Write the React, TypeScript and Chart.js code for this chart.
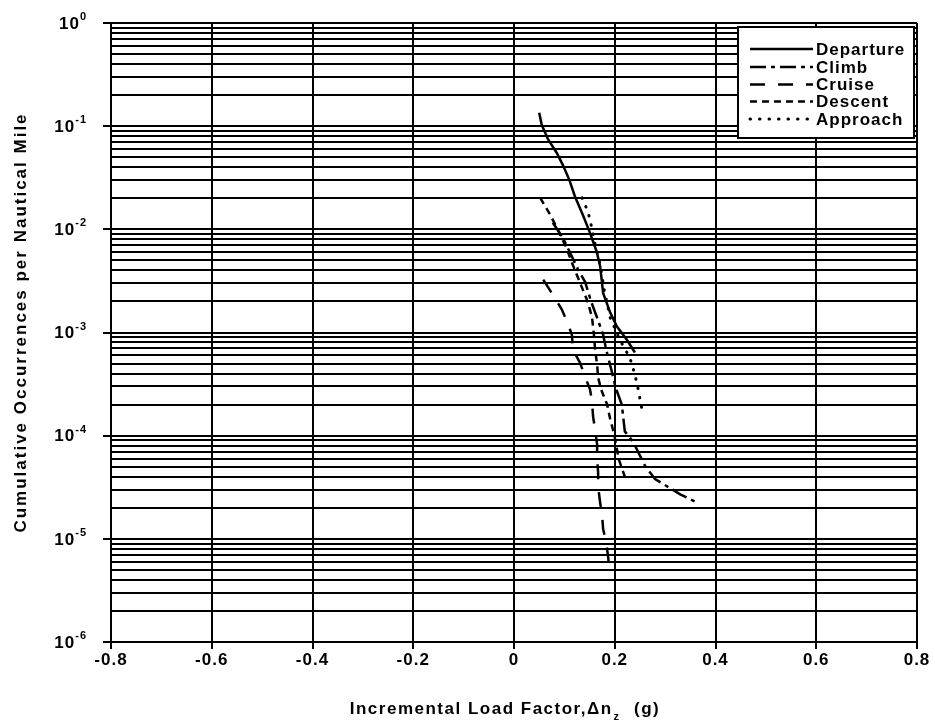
import React, { useEffect, useRef } from 'react';
import { Chart, registerables } from 'chart.js';

Chart.register(...registerables);

// ---------- data ----------
const xTickValues = [-0.8, -0.6, -0.4, -0.2, 0, 0.2, 0.4, 0.6, 0.8];
const xTickLabels = ['-0.8', '-0.6', '-0.4', '-0.2', '0', '0.2', '0.4', '0.6', '0.8'];
const yDecadeExponents = [0, -1, -2, -3, -4, -5, -6];
const yDecadeLabels = ['0', '-1', '-2', '-3', '-4', '-5', '-6'];

const seriesNames = ['Departure', 'Climb', 'Cruise', 'Descent', 'Approach'];

const departureX = [0.050, 0.055, 0.068, 0.085, 0.098, 0.110, 0.121, 0.138, 0.151, 0.164, 0.171, 0.177, 0.191, 0.204, 0.224, 0.240];
const departureY = [0.135, 0.103, 0.074, 0.055, 0.041, 0.030, 0.0208, 0.0133, 0.0092, 0.0061, 0.0044, 0.0024, 0.00156, 0.00115, 0.00085, 0.00064];

const climbX = [0.077, 0.097, 0.113, 0.127, 0.141, 0.153, 0.165, 0.177, 0.183, 0.193, 0.202, 0.214, 0.220, 0.236, 0.260, 0.280, 0.330, 0.359];
const climbY = [0.0116, 0.0083, 0.0057, 0.0041, 0.0031, 0.0020, 0.00139, 0.00095, 0.00068, 0.00044, 0.00029, 0.00020, 0.00011, 0.000088, 0.000051, 0.000038, 0.000027, 0.000023];

const cruiseX = [0.058, 0.077, 0.095, 0.105, 0.115, 0.117, 0.131, 0.141, 0.151, 0.155, 0.157, 0.161, 0.165, 0.165, 0.167, 0.167, 0.171, 0.175, 0.177, 0.183, 0.187, 0.189];
const cruiseY = [0.00325, 0.00233, 0.00167, 0.00128, 0.00095, 0.00068, 0.00051, 0.000374, 0.00028, 0.00021, 0.000153, 0.000115, 0.000082, 0.000061, 0.000044, 0.000032, 0.0000225, 0.0000165, 0.0000124, 0.0000092, 0.0000066, 0.0000053];

const descentX = [0.052, 0.072, 0.087, 0.103, 0.115, 0.131, 0.147, 0.155, 0.159, 0.161, 0.165, 0.167, 0.173, 0.185, 0.191, 0.199, 0.208, 0.220];
const descentY = [0.0202, 0.0138, 0.0099, 0.0068, 0.00475, 0.00304, 0.00195, 0.00139, 0.00091, 0.00068, 0.00049, 0.000366, 0.00028, 0.00020, 0.000144, 0.000103, 0.000059, 0.000040];

const approachX = [0.135, 0.147, 0.153, 0.161, 0.171, 0.179, 0.191, 0.210, 0.230, 0.240, 0.246, 0.256];
const approachY = [0.0202, 0.0148, 0.0111, 0.0071, 0.00454, 0.0026, 0.00139, 0.00085, 0.00057, 0.00039, 0.00029, 0.00016];

// ---------- styles ----------
const FONT = '"Liberation Sans", Arial, sans-serif';
const seriesX = [departureX, climbX, cruiseX, descentX, approachX];
const seriesY = [departureY, climbY, cruiseY, descentY, approachY];
const seriesDash: number[][] = [[], [16, 5, 4, 5], [15, 13], [7, 5], [0.5, 9]];
const seriesWidth = [2.5, 2.5, 2.5, 2.5, 3];
const seriesCap: CanvasLineCap[] = ['butt', 'butt', 'butt', 'butt', 'round'];

const yTickValues: number[] = [];
for (let k = -6; k <= 0; k++) {
  for (let m = 1; m <= 9; m++) {
    const v = m * Math.pow(10, k);
    if (v <= 1.0000001) yTickValues.push(v);
  }
}

const isDecade = (v: number) => {
  const l = Math.log10(v);
  return Math.abs(l - Math.round(l)) < 1e-6;
};

const textPlugin = {
  id: 'customText',
  afterDatasetsDraw(chart: any) {
    const ctx: CanvasRenderingContext2D = chart.ctx;
    const xs = chart.scales.x;
    const ys = chart.scales.y;
    const area = chart.chartArea;
    ctx.save();
    ctx.fillStyle = '#000';
    (ctx as any).letterSpacing = '1px';

    // x tick labels
    ctx.font = `bold 17px ${FONT}`;
    ctx.textAlign = 'center';
    ctx.textBaseline = 'middle';
    xTickValues.forEach((v, i) => {
      ctx.fillText(xTickLabels[i], xs.getPixelForValue(v), area.bottom + 18);
    });

    // y tick labels 10^k
    yDecadeExponents.forEach((k, i) => {
      const y = ys.getPixelForValue(Math.pow(10, k));
      ctx.font = `bold 11px ${FONT}`;
      const supW = ctx.measureText(yDecadeLabels[i]).width;
      const right = area.left - 24;
      ctx.textAlign = 'left';
      ctx.textBaseline = 'middle';
      ctx.fillText(yDecadeLabels[i], right - supW, y - 6);
      ctx.font = `bold 17px ${FONT}`;
      ctx.textAlign = 'right';
      ctx.fillText('10', right - supW, y + 1);
    });

    // y title
    ctx.save();
    (ctx as any).letterSpacing = '2px';
    ctx.translate(21, (area.top + area.bottom) / 2 - 10);
    ctx.rotate(-Math.PI / 2);
    ctx.font = `bold 17px ${FONT}`;
    ctx.textAlign = 'center';
    ctx.textBaseline = 'middle';
    ctx.fillText('Cumulative Occurrences per Nautical Mile', 0, 0);
    ctx.restore();

    // x title with subscript
    (ctx as any).letterSpacing = '1.5px';
    ctx.font = `bold 17px ${FONT}`;
    ctx.textAlign = 'left';
    ctx.textBaseline = 'alphabetic';
    const part1 = 'Incremental Load Factor,\u0394n';
    const part3 = '  (g)';
    const w1 = ctx.measureText(part1).width;
    ctx.font = `bold 11px ${FONT}`;
    const w2 = ctx.measureText('z').width + 2;
    ctx.font = `bold 17px ${FONT}`;
    const w3 = ctx.measureText(part3).width;
    const total = w1 + w2 + w3;
    const startX = 505 - total / 2;
    const base = 714;
    ctx.fillText(part1, startX, base);
    ctx.font = `bold 11px ${FONT}`;
    ctx.fillText('z', startX + w1 + 1, base + 6);
    ctx.font = `bold 17px ${FONT}`;
    ctx.fillText(part3, startX + w1 + w2, base);
    (ctx as any).letterSpacing = '1px';

    // legend
    const bx = 738, by = 27, bw = 176, bh = 111;
    ctx.fillStyle = '#fff';
    ctx.fillRect(bx, by, bw, bh);
    ctx.strokeStyle = '#000';
    ctx.lineWidth = 2;
    ctx.setLineDash([]);
    ctx.strokeRect(bx, by, bw, bh);
    const rows = [49, 67, 84.5, 101.5, 119];
    seriesNames.forEach((name, i) => {
      const y = rows[i];
      ctx.save();
      ctx.strokeStyle = '#000';
      ctx.lineWidth = seriesWidth[i];
      ctx.lineCap = seriesCap[i];
      ctx.setLineDash(seriesDash[i]);
      ctx.beginPath();
      ctx.moveTo(750, y);
      ctx.lineTo(813, y);
      ctx.stroke();
      ctx.restore();
      ctx.fillStyle = '#000';
      ctx.font = `bold 17px ${FONT}`;
      ctx.textAlign = 'left';
      ctx.textBaseline = 'middle';
      ctx.fillText(name, 816, y + 1);
    });
    ctx.restore();
  },
};

export default function App() {
  const ref = useRef<HTMLCanvasElement | null>(null);
  useEffect(() => {
    if (!ref.current) return;
    const datasets = seriesNames.map((name, i) => ({
      label: name,
      data: seriesX[i].map((x, j) => ({ x, y: seriesY[i][j] })),
      borderColor: '#000',
      backgroundColor: '#000',
      borderWidth: seriesWidth[i],
      borderDash: seriesDash[i],
      borderCapStyle: seriesCap[i],
      pointRadius: 0,
      showLine: true,
      fill: false,
      tension: 0,
    }));
    const chart = new Chart(ref.current, {
      type: 'scatter',
      data: { datasets },
      options: {
        animation: false,
        responsive: false,
        maintainAspectRatio: false,
        devicePixelRatio: 1,
        layout: { padding: { left: 0, right: 18, top: 23, bottom: 0 } },
        plugins: {
          legend: { display: false },
          tooltip: { enabled: false },
          title: { display: false },
        },
        scales: {
          x: {
            type: 'linear',
            min: -0.8,
            max: 0.8,
            afterBuildTicks: (s: any) => {
              s.ticks = xTickValues.map((v) => ({ value: v }));
            },
            afterFit: (s: any) => {
              s.height = 81;
            },
            grid: { color: '#000', lineWidth: 2, drawTicks: true, tickLength: 7, tickColor: '#000', tickWidth: 2 },
            border: { display: true, color: '#000', width: 2 },
            ticks: { display: false },
          },
          y: {
            type: 'logarithmic',
            min: 1e-6,
            max: 1,
            afterBuildTicks: (s: any) => {
              s.ticks = yTickValues.map((v) => ({ value: v }));
            },
            afterFit: (s: any) => {
              s.width = 111;
            },
            grid: {
              color: '#000',
              lineWidth: 2,
              drawTicks: true,
              tickLength: 8,
              tickWidth: 2,
              tickColor: (c: any) => (c.tick && isDecade(c.tick.value) ? '#000' : 'rgba(0,0,0,0)'),
            },
            border: { display: true, color: '#000', width: 2 },
            ticks: { display: false },
          },
        },
      } as any,
      plugins: [textPlugin],
    });
    return () => chart.destroy();
  }, []);
  return (
    <div style={{ position: 'absolute', left: 0, top: 0, width: 935, height: 723, background: '#fff' }}>
      <canvas ref={ref} width={935} height={723} style={{ width: 935, height: 723, display: 'block' }} />
    </div>
  );
}
